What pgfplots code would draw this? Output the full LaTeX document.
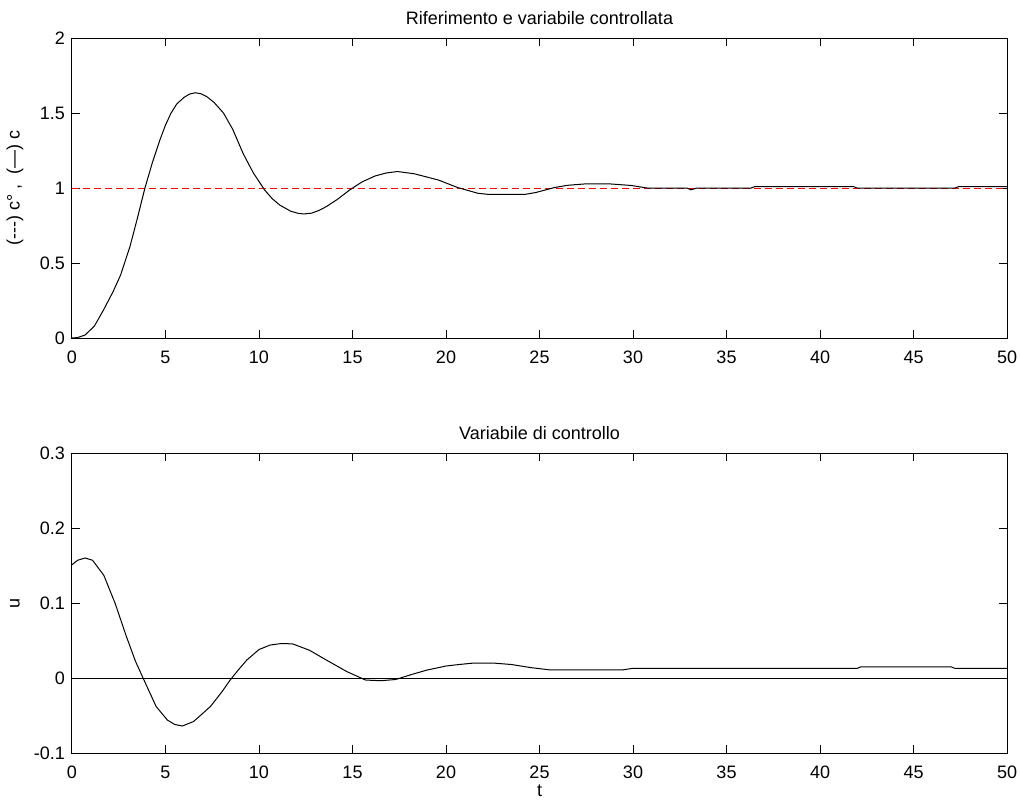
\documentclass[border=0pt]{standalone}
\usepackage{fontspec}
\setmainfont{Liberation Sans}
\usepackage{pgfplots}
\pgfplotsset{compat=1.18}

% 1 px of the reference = 0.5pt
\pgfplotsset{
  mlab/.style={
    scale only axis, width=467.5pt, height=150pt,
    xmin=0, xmax=50, xtick={0,5,10,15,20,25,30,35,40,45,50},
    tick align=inside, major tick length=4pt,
    axis line style={line width=0.5pt},
    every tick/.style={black, line width=0.5pt},
    tick label style={font=\fontsize{9}{10}\selectfont},
    xticklabel style={anchor=base, yshift=-12.5pt},
    label style={font=\fontsize{9}{10}\selectfont},
    every axis title/.style={font=\fontsize{9}{10}\selectfont, at={(axis description cs:0.5,1)}, anchor=base, yshift=7pt},
    ylabel style={at={(axis description cs:-0.061,0.5)}, anchor=center},
    /pgf/number format/assume math mode=true,
  }
}

\begin{document}
\begin{tikzpicture}
\useasboundingbox (-36pt,-233.5pt) rectangle (474.5pt,169pt);

\begin{axis}[mlab,
    ymin=0, ymax=2, ytick={0,0.5,1,1.5,2},
    title={Riferimento e variabile controllata},
    ylabel={(-{}-{}-) c°\ ,\ \ (—) c},
]
\addplot[red, line width=0.5pt, dash pattern=on 3.5pt off 2pt] coordinates {(0,1) (50,1)};
\addplot[black, line width=0.5pt] coordinates {
(0,0) (0.3,0.003) (0.7,0.02) (1.2,0.08) (1.7,0.19) (2.2,0.31) (2.6,0.42)
(3.1,0.61) (3.5,0.80) (3.9,1.00) (4.3,1.17) (4.7,1.32) (5.0,1.42) (5.3,1.50) (5.6,1.56)
(6.0,1.605) (6.3,1.627) (6.6,1.635) (6.9,1.628) (7.2,1.61) (7.6,1.57) (8.1,1.50) (8.6,1.39) (9.15,1.23)
(9.7,1.10) (10.3,0.987) (10.7,0.93) (11.1,0.887) (11.7,0.845) (12.1,0.831) (12.4,0.827)
(12.8,0.832) (13.2,0.85) (13.6,0.876) (14.2,0.925) (14.85,0.987) (15.5,1.04) (16.2,1.08)
(16.8,1.10) (17.4,1.11) (18.3,1.095) (19.6,1.053) (20.6,1.004) (21.7,0.965)
(22.3,0.957) (24.2,0.957) (24.8,0.97) (25.8,1.003) (26.5,1.018) (27.4,1.027)
(28.8,1.027) (29.9,1.017) (30.8,0.999) (32.9,0.999) (33.1,0.988) (33.4,0.999)
(36.3,0.999) (36.5,1.009) (41.8,1.009) (42.0,0.999) (47.2,0.999) (47.4,1.009)
(50,1.009)
};
\end{axis}

\begin{axis}[mlab, at={(0,-207.5pt)}, anchor=south west,
    ymin=-0.1, ymax=0.3, ytick={-0.1,0,0.1,0.2,0.3},
    title={Variabile di controllo},
    ylabel={u}, xlabel={t},
    xlabel style={at={(axis description cs:0.5,-0.145)}, anchor=base},
]
\addplot[black, line width=0.5pt] coordinates {(0,0) (50,0)};
\addplot[black, line width=0.5pt] coordinates {
(0,0.151) (0.3,0.157) (0.7,0.160) (1.1,0.157) (1.7,0.137) (2.3,0.100) (2.9,0.056)
(3.4,0.022) (3.8,0.0) (4.5,-0.038) (5.1,-0.056) (5.5,-0.062) (5.9,-0.064)
(6.5,-0.058) (7.0,-0.047) (7.4,-0.038) (8.0,-0.019) (8.45,-0.003) (8.9,0.011)
(9.35,0.024) (10.0,0.038) (10.6,0.044) (11.2,0.046) (11.8,0.0455) (12.7,0.037)
(13.6,0.024) (14.7,0.0085) (15.7,-0.0027) (16.5,-0.0036) (17.3,-0.002)
(18.2,0.005) (19.0,0.0107) (20.0,0.016) (20.7,0.018) (21.5,0.020) (22.5,0.020)
(23.5,0.018) (24.5,0.014) (25.5,0.011) (29.5,0.011) (30,0.013) (42,0.013)
(42.2,0.015) (47,0.015) (47.2,0.013) (50,0.013)
};
\end{axis}
\end{tikzpicture}
\end{document}
